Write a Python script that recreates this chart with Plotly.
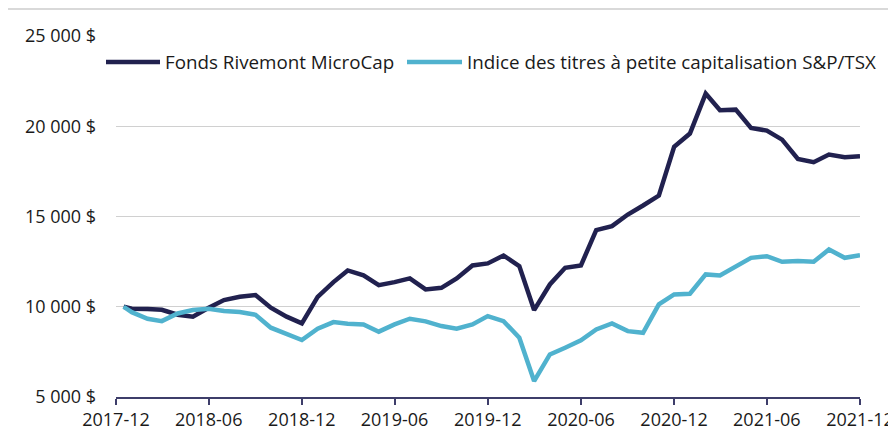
import plotly.graph_objects as go

# ---- data ----
dates = ["2017-12-16"] + [f"{y}-{m:02d}-01" for y in range(2018, 2022) for m in range(1, 13)]

fonds_rivemont = [
    10000, 9890, 9880, 9830, 9560, 9450, 9940, 10370, 10550, 10650,
    9945, 9450, 9080, 10550, 11365, 12010, 11735, 11200, 11365, 11570,
    10960, 11050, 11570, 12290, 12400, 12840, 12250, 9815, 11235, 12160,
    12290, 14245, 14465, 15110, 15610, 16160, 18860, 19595, 21810, 20885,
    20920, 19910, 19760, 19260, 18190, 18010, 18430, 18285, 18340,
]

indice_sp_tsx = [
    10000, 9700, 9335, 9205, 9630, 9815, 9890, 9760, 9705, 9557,
    8840, 8470, 8155, 8780, 9150, 9060, 9020, 8620, 9020, 9335,
    9190, 8930, 8780, 9020, 9480, 9205, 8285, 5885, 7360, 7730,
    8135, 8745, 9080, 8650, 8560, 10130, 10680, 10720, 11790, 11735,
    12215, 12710, 12800, 12490, 12530, 12490, 13170, 12710, 12860,
]

series_names = ["Fonds Rivemont MicroCap", "Indice des titres à petite capitalisation S&P/TSX"]

y_tick_vals = [5000, 10000, 15000, 20000, 25000]
y_tick_labels = ["5 000 $", "10 000 $", "15 000 $", "20 000 $", "25 000 $"]

x_tick_vals = ["2017-12-01", "2018-06-01", "2018-12-01", "2019-06-01", "2019-12-01",
               "2020-06-01", "2020-12-01", "2021-06-01", "2021-12-01"]
x_tick_labels = ["2017-12", "2018-06", "2018-12", "2019-06", "2019-12",
                 "2020-06", "2020-12", "2021-06", "2021-12"]

DARK = "#21214f"
LIGHT = "#50b2ce"
TEXT = "#1a1a1a"
FONT = "Open Sans"

# page body has an 8px margin: figure origin sits at screen (8, 8)
OFF = 8
W, H = 888, 426
L, R, T = 116 - OFF, 36, 36 - OFF
B = H - (397.3 - OFF)
PW, PH = W - L - R, H - T - B


def px_x(sx):
    return (sx - OFF - L) / PW


def px_y(sy):
    return (H - B - (sy - OFF)) / PH


fig = go.Figure()
colors = [DARK, LIGHT]
for name, vals, col in zip(series_names, [fonds_rivemont, indice_sp_tsx], colors):
    fig.add_trace(go.Scatter(x=dates, y=vals, mode="lines", name=name,
                             line=dict(color=col, width=4.5), showlegend=False))

# custom legend (samples + text), positions in screen pixels
legend_rows = [(106, 160, 163), (407, 462, 465)]
shapes = [dict(type="line", xref="paper", yref="paper",
               x0=px_x(8), x1=px_x(896), y0=px_y(8.5), y1=px_y(8.5),
               line=dict(color="#d9d9d9", width=3))]
annotations = []
for (s0, s1, tx), name, col in zip(legend_rows, series_names, colors):
    shapes.append(dict(type="line", xref="paper", yref="paper",
                       x0=px_x(s0), x1=px_x(s1), y0=px_y(62), y1=px_y(62),
                       line=dict(color=col, width=4.5)))
    annotations.append(dict(xref="paper", yref="paper", x=px_x(tx), y=px_y(62),
                            xanchor="left", yanchor="middle", showarrow=False,
                            text=name, font=dict(family=FONT, size=18.8, color=TEXT)))

fig.update_layout(
    width=W, height=H,
    margin=dict(l=L, r=R, t=T, b=B),
    paper_bgcolor="white", plot_bgcolor="white",
    font=dict(family=FONT, size=18, color=TEXT),
    showlegend=False,
    shapes=shapes,
    annotations=annotations,
)

fig.update_xaxes(
    type="date", range=["2017-12-01", "2021-12-01"],
    tickvals=x_tick_vals, ticktext=x_tick_labels,
    showgrid=False, zeroline=False, automargin=False,
    showline=True, linecolor="#3e3e6a", linewidth=1.5,
    ticks="outside", ticklen=6, tickcolor="#3e3e6a", tickwidth=1.5,
    tickfont=dict(family=FONT, size=18, color=TEXT),
)
fig.update_yaxes(
    range=[5000, 25000], tickvals=y_tick_vals, ticktext=y_tick_labels,
    showgrid=True, gridcolor="#d0d0d0", gridwidth=1, automargin=False,
    zeroline=False, showline=False, ticks="",
    ticklabelstandoff=19,
    tickfont=dict(family=FONT, size=18, color=TEXT),
)

fig.write_html("out.html")
